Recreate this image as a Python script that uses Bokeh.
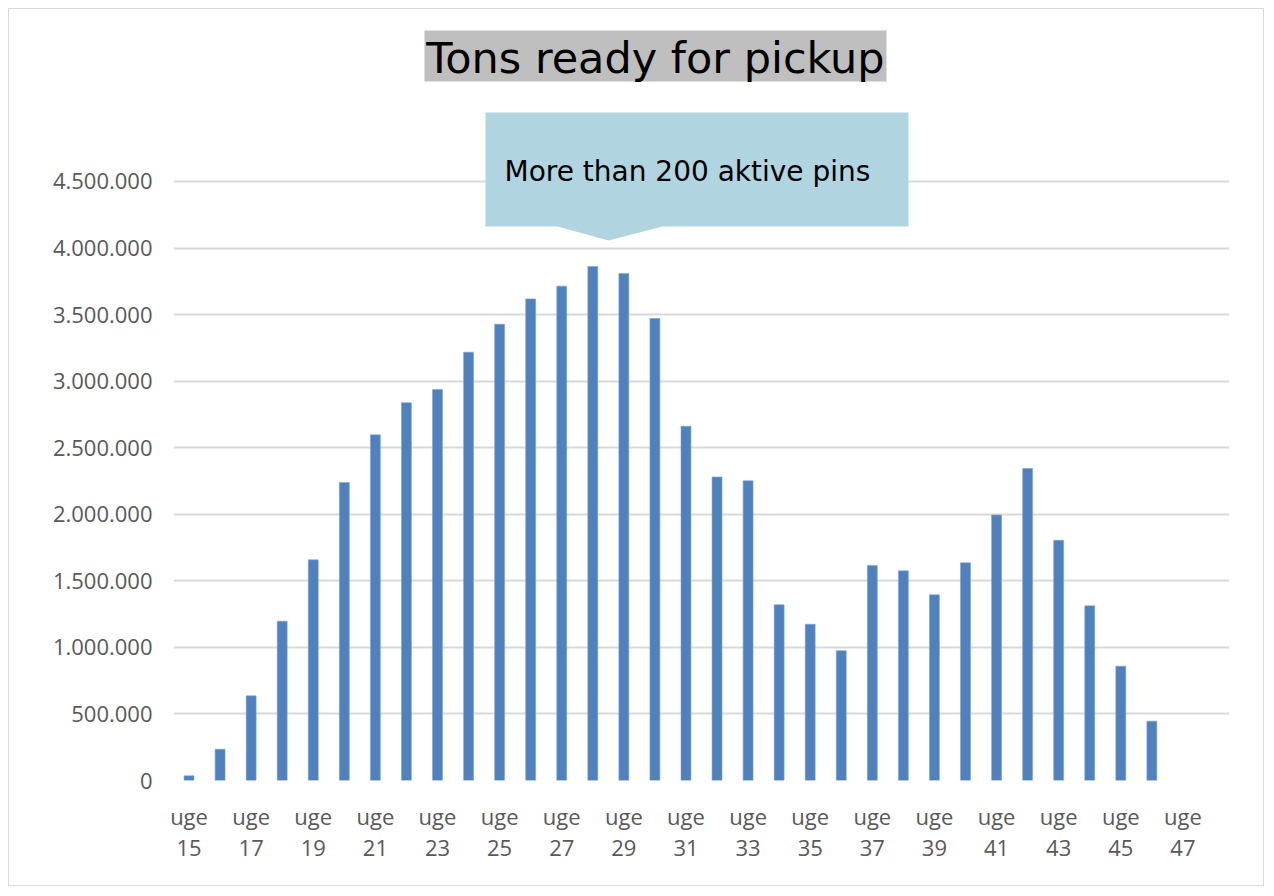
from bokeh.plotting import figure
from bokeh.models import Range1d, FixedTicker, BoxAnnotation, PolyAnnotation, Label
from bokeh.embed import file_html
from bokeh.resources import INLINE

# ---- data ----
weeks = list(range(15, 49))
tons = [35000, 235000, 636000, 1197000, 1658000, 2239000, 2597000, 2838000,
        2938000, 3218000, 3428000, 3618000, 3714000, 3862000, 3809000, 3471000,
        2661000, 2280000, 2252000, 1320000, 1174000, 975000, 1616000, 1575000,
        1395000, 1635000, 1995000, 2344000, 1805000, 1312000, 859000, 446000]
y_ticks = [0, 500000, 1000000, 1500000, 2000000, 2500000, 3000000, 3500000, 4000000, 4500000]
x_label_prefix = "uge"
title_text = "Tons ready for pickup"
callout_text = "More than 200 aktive pins"

W, H = 1256, 878
p = figure(width=W, height=H, output_backend="svg", toolbar_location=None,
           x_range=Range1d(0, len(weeks)),
           y_range=Range1d(0, 5702000),
           min_border_left=164, min_border_right=36, min_border_top=12, min_border_bottom=107)
p.margin = (8, 8, 8, 8)
p.styles = {"border": "1px solid #d9d9d9"}
p.outline_line_color = None
p.background_fill_color = "white"

xpos = [i + 0.5 for i in range(len(weeks))]
p.vbar(x=xpos[:len(tons)], top=tons, width=0.32, fill_color="#4f81bd",
       line_color="#7fa3d0", line_width=0.6)

# axes
p.yaxis.ticker = FixedTicker(ticks=y_ticks)
p.yaxis.major_label_overrides = {v: f"{v:,}".replace(",", ".") for v in y_ticks}
odd = [(x, w) for x, w in zip(xpos, weeks) if w % 2 == 1]
p.xaxis.ticker = FixedTicker(ticks=[x for x, _ in odd])
p.xaxis.major_label_overrides = {x: f"{x_label_prefix}\n{w}" for x, w in odd}
for ax in (p.xaxis[0], p.yaxis[0]):
    ax.axis_line_color = None
    ax.major_tick_line_color = None
    ax.minor_tick_line_color = None
    ax.major_tick_out = 0
    ax.major_tick_in = 0
    ax.major_label_text_color = "#595959"
    ax.major_label_text_font = "Open Sans"
    ax.major_label_text_font_size = "22px"
p.yaxis.major_label_standoff = 21
p.xaxis.major_label_standoff = 20
p.xaxis.major_label_text_line_height = 1.05

p.xgrid.grid_line_color = None
p.ygrid.grid_line_color = "#d9d9d9"
p.ygrid.grid_line_width = 2

# annotations (positions converted from layout, x in category units, y in data units)
def cx(px):
    return (px - 172) / 31.06

def cy(py):
    return (781 - py) * 7512.5

p.add_layout(BoxAnnotation(left=cx(423), right=cx(885), top=cy(31), bottom=cy(82),
                           fill_color="#bfbfbf", fill_alpha=1, line_color=None))
xs = [cx(484), cx(907), cx(907), cx(661), cx(607), cx(556), cx(484)]
ys = [cy(113), cy(113), cy(227), cy(227), cy(241), cy(227), cy(227)]
p.add_layout(PolyAnnotation(xs=xs, ys=ys, fill_color="#b0d5e0", fill_alpha=1, line_color=None))

p.add_layout(Label(x=cx(654), y=cy(58), text=title_text, text_align="center", text_baseline="middle",
                   text_font="DejaVu Sans", text_font_size="43px", text_color="black", level="overlay"))
p.add_layout(Label(x=cx(503), y=cy(172), text=callout_text, text_align="left", text_baseline="middle",
                   text_font="DejaVu Sans", text_font_size="28px", text_color="black", level="overlay"))

open("out.html", "w").write(file_html(p, INLINE))
